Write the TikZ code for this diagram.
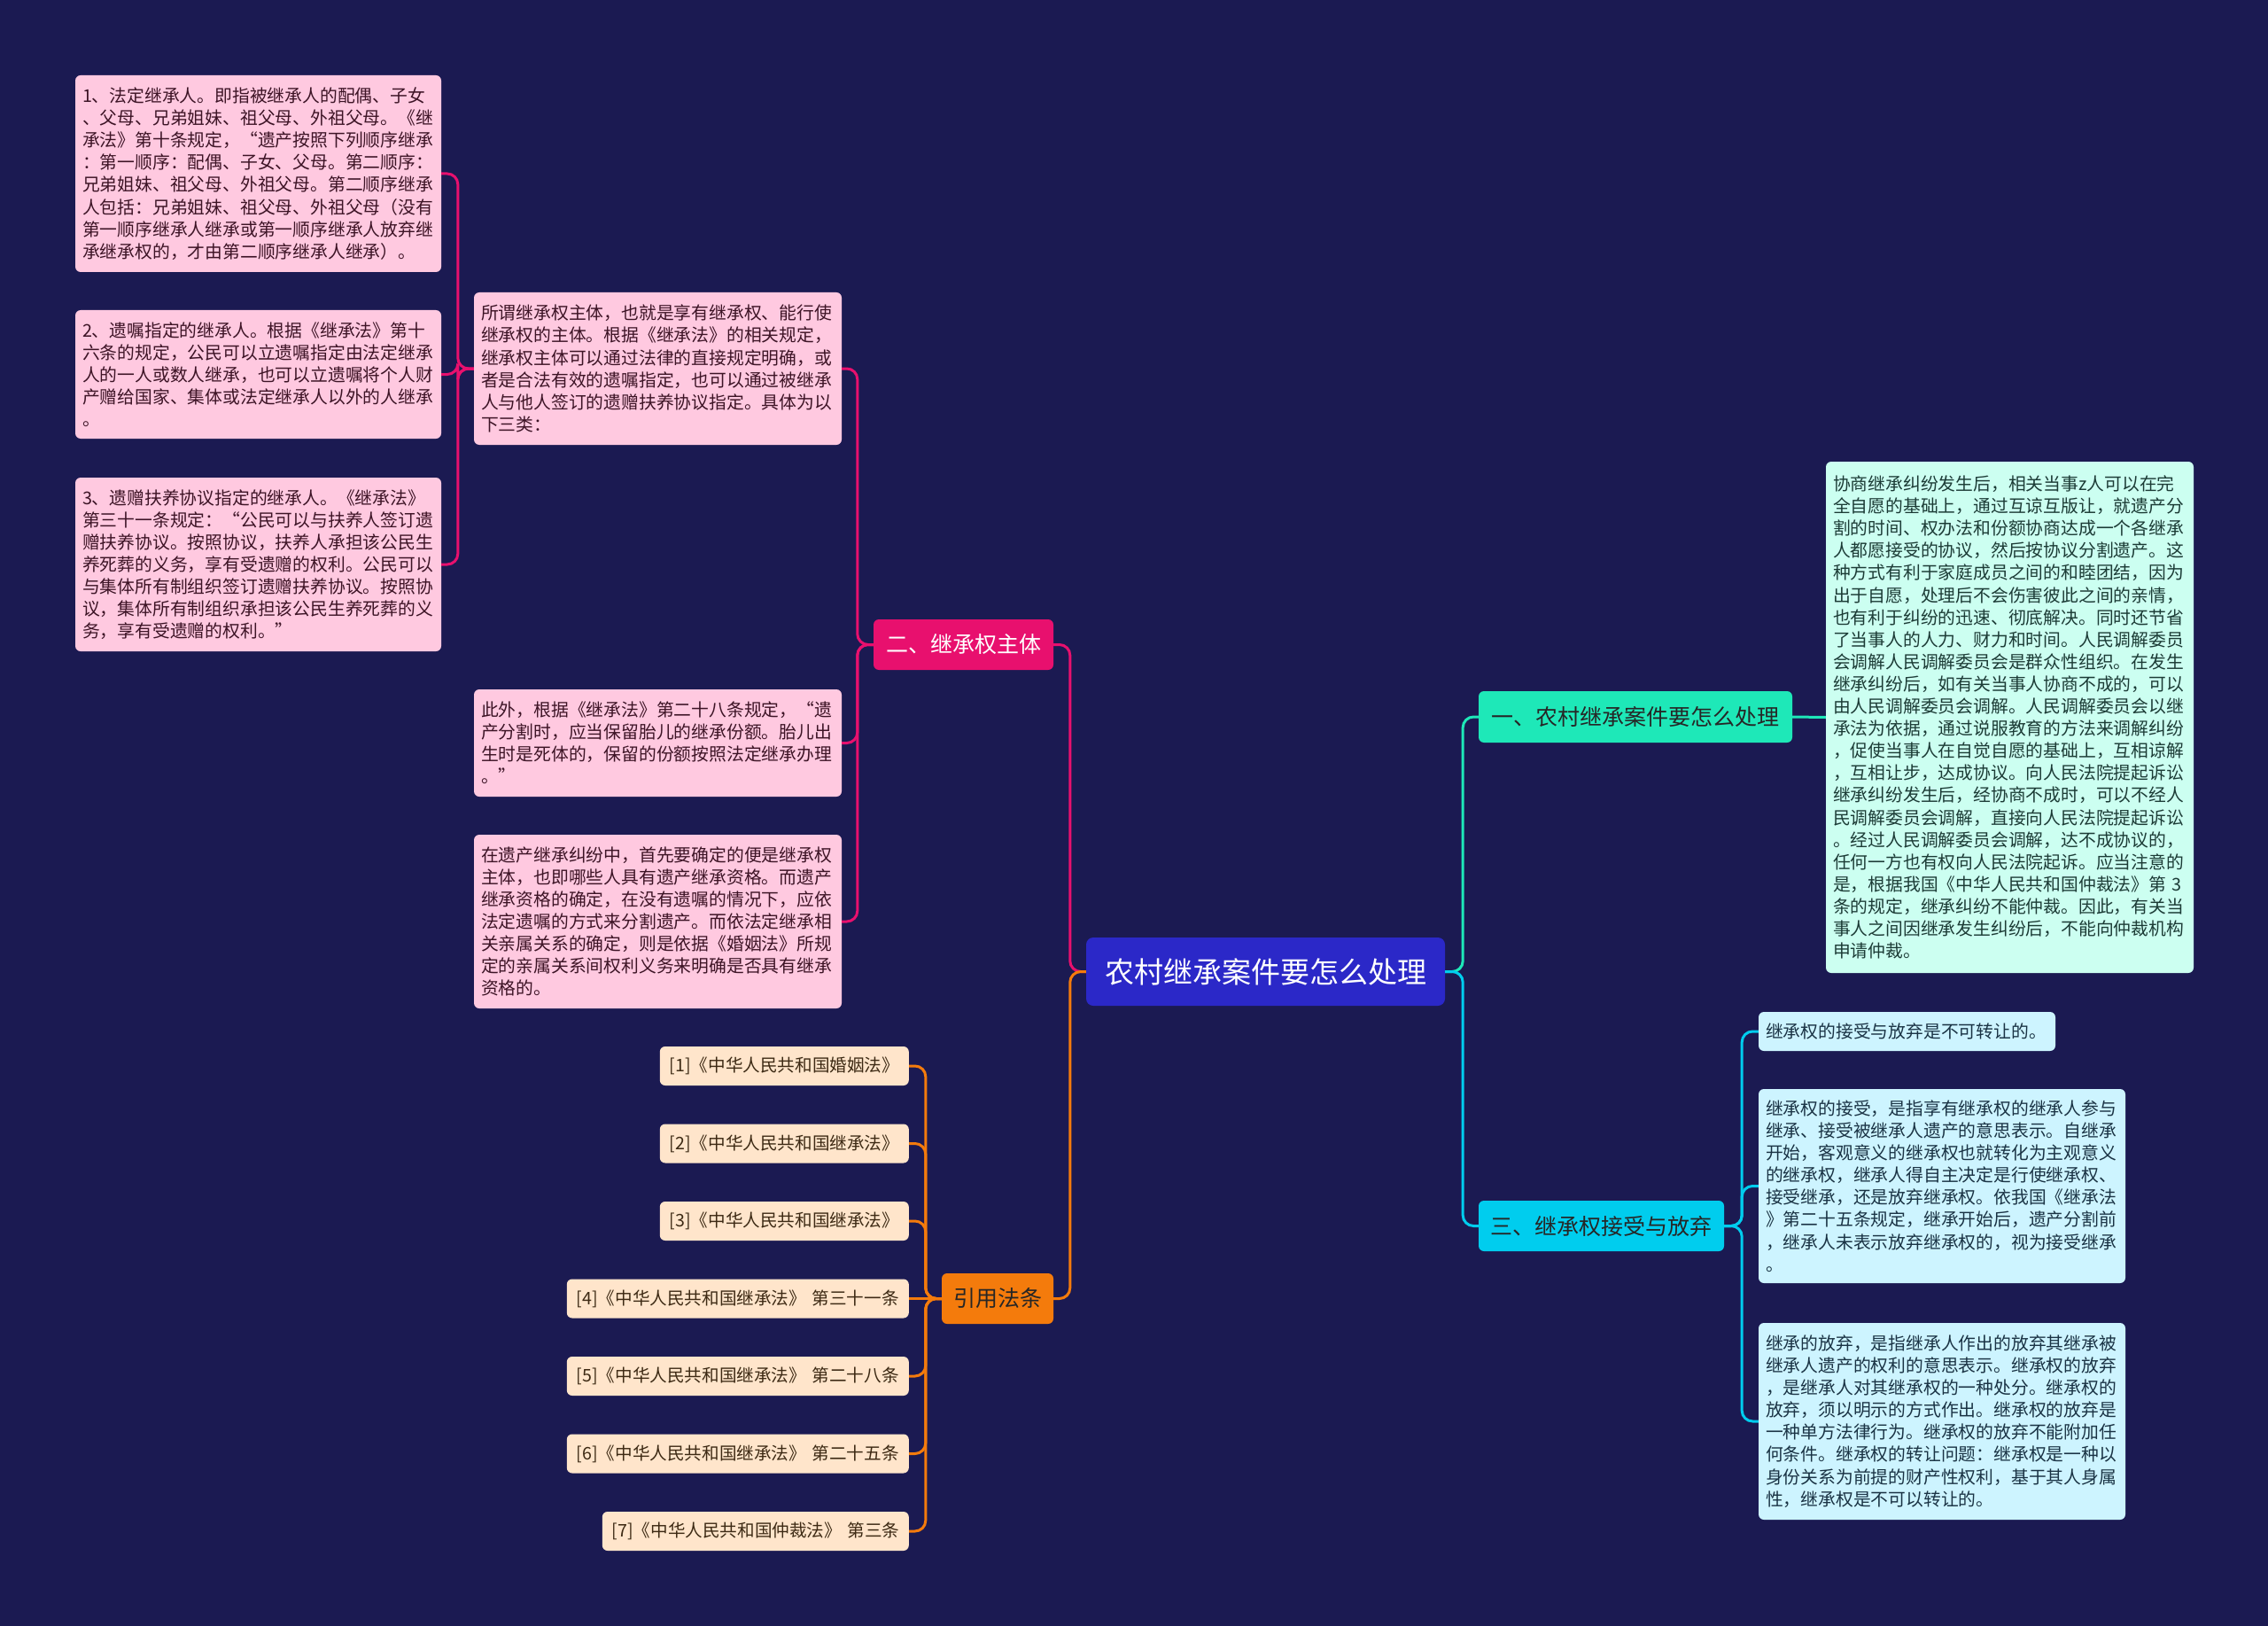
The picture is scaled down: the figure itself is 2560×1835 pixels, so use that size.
\documentclass[tikz,border=0pt]{standalone}
\usepackage{fontspec}
\setmainfont{Noto Sans CJK SC}
\definecolor{bg}{HTML}{1B1A52}
\definecolor{rootc}{HTML}{2B28C8}
\definecolor{mag}{HTML}{E8106E}
\definecolor{org}{HTML}{F47B0C}
\definecolor{tur}{HTML}{1EE8B8}
\definecolor{cya}{HTML}{00CDEE}
\definecolor{pinkfill}{HTML}{FFC9E0}
\definecolor{pinktext}{HTML}{3D1426}
\definecolor{creamfill}{HTML}{FFE5CB}
\definecolor{creamtext}{HTML}{3D2A14}
\definecolor{greenfill}{HTML}{CCFFF1}
\definecolor{greentext}{HTML}{1C3B36}
\definecolor{bluefill}{HTML}{CDF4FF}
\definecolor{bluetext}{HTML}{1A3344}
\newcommand{\leaffont}{\fontsize{19.8}{25.1}\selectfont}
\begin{document}
\begin{tikzpicture}[x=1pt,y=-1pt,
  box/.style={rounded corners=6pt, inner xsep=8pt, inner ysep=0pt},
  leafP/.style={box, fill=pinkfill, text=pinktext, font=\leaffont, align=left},
  leafG/.style={box, fill=greenfill, text=greentext, font=\leaffont, align=left},
  leafB/.style={box, fill=bluefill, text=bluetext, font=\leaffont, align=left},
  refbox/.style={box, fill=creamfill, text=creamtext, font=\fontsize{19.6}{24}\selectfont, align=left, inner xsep=11pt, minimum height=44pt, anchor=east},
  branch/.style={rounded corners=6pt, inner sep=0pt, font=\fontsize{25}{30}\selectfont, align=center},
  link/.style={line width=3pt, rounded corners=12pt}
]
\useasboundingbox (0,0) rectangle (2560,1835);
\fill[bg] (0,0) rectangle (2560,1835);

% root and branches
\node[rounded corners=8pt, inner sep=0pt, fill=rootc, text=white, font=\fontsize{33}{38}\selectfont, minimum width=405pt, minimum height=77pt] (root) at (1428.5,1096.5) {农村继承案件要怎么处理};
\node[branch, fill=mag, text=white, minimum width=203pt, minimum height=57pt] (b2) at (1087.5,727.5) {二、继承权主体};
\node[branch, fill=org, text=black!85, minimum width=126pt, minimum height=57pt] (bref) at (1126,1465.5) {引用法条};
\node[branch, fill=tur, text=black!85, minimum width=354pt, minimum height=58pt] (b1) at (1846,809) {一、农村继承案件要怎么处理};
\node[branch, fill=cya, text=black!85, minimum width=277pt, minimum height=57pt] (b3) at (1807.5,1383.5) {三、继承权接受与放弃};

% pink leaves
\node[leafP, text width=397pt, minimum height=222pt] (p1) at (291.5,196) {1、法定继承人。即指被继承人的配偶、子女\\、父母、兄弟姐妹、祖父母、外祖父母。《继\\承法》第十条规定，“遗产按照下列顺序继承\\：第一顺序：配偶、子女、父母。第二顺序：\\兄弟姐妹、祖父母、外祖父母。第二顺序继承\\人包括：兄弟姐妹、祖父母、外祖父母（没有\\第一顺序继承人继承或第一顺序继承人放弃继\\承继承权的，才由第二顺序继承人继承）。};
\node[leafP, text width=397pt, minimum height=145pt] (p2) at (291.5,422.5) {2、遗嘱指定的继承人。根据《继承法》第十\\六条的规定，公民可以立遗嘱指定由法定继承\\人的一人或数人继承，也可以立遗嘱将个人财\\产赠给国家、集体或法定继承人以外的人继承\\。};
\node[leafP, text width=397pt, minimum height=196pt] (p3) at (291.5,637) {3、遗赠扶养协议指定的继承人。《继承法》\\第三十一条规定：“公民可以与扶养人签订遗\\赠扶养协议。按照协议，扶养人承担该公民生\\养死葬的义务，享有受遗赠的权利。公民可以\\与集体所有制组织签订遗赠扶养协议。按照协\\议，集体所有制组织承担该公民生养死葬的义\\务，享有受遗赠的权利。”};
\node[leafP, text width=399pt, minimum height=172pt] (p4) at (742.5,416) {所谓继承权主体，也就是享有继承权、能行使\\继承权的主体。根据《继承法》的相关规定，\\继承权主体可以通过法律的直接规定明确，或\\者是合法有效的遗嘱指定，也可以通过被继承\\人与他人签订的遗赠扶养协议指定。具体为以\\下三类：};
\node[leafP, text width=399pt, minimum height=121pt] (p5) at (742.5,838.5) {此外，根据《继承法》第二十八条规定，“遗\\产分割时，应当保留胎儿的继承份额。胎儿出\\生时是死体的，保留的份额按照法定继承办理\\。”};
\node[leafP, text width=399pt, minimum height=196pt] (p6) at (742.5,1040) {在遗产继承纠纷中，首先要确定的便是继承权\\主体，也即哪些人具有遗产继承资格。而遗产\\继承资格的确定，在没有遗嘱的情况下，应依\\法定遗嘱的方式来分割遗产。而依法定继承相\\关亲属关系的确定，则是依据《婚姻法》所规\\定的亲属关系间权利义务来明确是否具有继承\\资格的。};

% green leaf
\node[leafG, text width=399pt, minimum height=577pt] (g1) at (2268.5,809.5) {协商继承纠纷发生后，相关当事z人可以在完\\全自愿的基础上，通过互谅互版让，就遗产分\\割的时间、权办法和份额协商达成一个各继承\\人都愿接受的协议，然后按协议分割遗产。这\\种方式有利于家庭成员之间的和睦团结，因为\\出于自愿，处理后不会伤害彼此之间的亲情，\\也有利于纠纷的迅速、彻底解决。同时还节省\\了当事人的人力、财力和时间。人民调解委员\\会调解人民调解委员会是群众性组织。在发生\\继承纠纷后，如有关当事人协商不成的，可以\\由人民调解委员会调解。人民调解委员会以继\\承法为依据，通过说服教育的方法来调解纠纷\\，促使当事人在自觉自愿的基础上，互相谅解\\，互相让步，达成协议。向人民法院提起诉讼\\继承纠纷发生后，经协商不成时，可以不经人\\民调解委员会调解，直接向人民法院提起诉讼\\。经过人民调解委员会调解，达不成协议的，\\任何一方也有权向人民法院起诉。应当注意的\\是，根据我国《中华人民共和国仲裁法》第~3\\条的规定，继承纠纷不能仲裁。因此，有关当\\事人之间因继承发生纠纷后，不能向仲裁机构\\申请仲裁。};

% blue leaves
\node[leafB, text width=319pt, minimum height=44pt] (c1) at (2152.5,1164) {继承权的接受与放弃是不可转让的。};
\node[leafB, text width=398pt, minimum height=219pt] (c2) at (2192,1338.5) {继承权的接受，是指享有继承权的继承人参与\\继承、接受被继承人遗产的意思表示。自继承\\开始，客观意义的继承权也就转化为主观意义\\的继承权，继承人得自主决定是行使继承权、\\接受继承，还是放弃继承权。依我国《继承法\\》第二十五条规定，继承开始后，遗产分割前\\，继承人未表示放弃继承权的，视为接受继承\\。};
\node[leafB, text width=398pt, minimum height=222pt] (c3) at (2192,1604) {继承的放弃，是指继承人作出的放弃其继承被\\继承人遗产的权利的意思表示。继承权的放弃\\，是继承人对其继承权的一种处分。继承权的\\放弃，须以明示的方式作出。继承权的放弃是\\一种单方法律行为。继承权的放弃不能附加任\\何条件。继承权的转让问题：继承权是一种以\\身份关系为前提的财产性权利，基于其人身属\\性，继承权是不可以转让的。};

% references
\node[refbox, text width=259pt] (r1) at (1026,1203) {[1]《中华人民共和国婚姻法》};
\node[refbox, text width=259pt] (r2) at (1026,1290.5) {[2]《中华人民共和国继承法》};
\node[refbox, text width=259pt] (r3) at (1026,1378) {[3]《中华人民共和国继承法》};
\node[refbox, text width=364pt] (r4) at (1026,1465.5) {[4]《中华人民共和国继承法》~第三十一条};
\node[refbox, text width=364pt] (r5) at (1026,1553) {[5]《中华人民共和国继承法》~第二十八条};
\node[refbox, text width=364pt] (r6) at (1026,1640.5) {[6]《中华人民共和国继承法》~第二十五条};
\node[refbox, text width=324pt] (r7) at (1026,1728) {[7]《中华人民共和国仲裁法》~第三条};

% connectors
\draw[link, mag] (root.west) -- ++(-18,0) |- (b2.east);
\draw[link, org] (root.west) -- ++(-18,0) |- (bref.east);
\draw[link, tur] (root.east) -- ++(20,0) |- (b1.west);
\draw[link, cya] (root.east) -- ++(20,0) |- (b3.west);
\foreach \n in {p4,p5,p6} \draw[link, mag] (b2.west) -- ++(-18,0) |- (\n.east);
\foreach \n in {p1,p2,p3} \draw[link, mag] (p4.west) -- ++(-18,0) |- (\n.east);
\foreach \n in {r1,r2,r3,r5,r6,r7} \draw[link, org] (bref.west) -- ++(-18,0) |- (\n.east);
\draw[link, org] (bref.west) -- (r4.east);
\draw[link, tur] (b1.east) -- (g1.west);
\foreach \n in {c1,c2,c3} \draw[link, cya] (b3.east) -- ++(20,0) |- (\n.west);
\end{tikzpicture}
\end{document}
